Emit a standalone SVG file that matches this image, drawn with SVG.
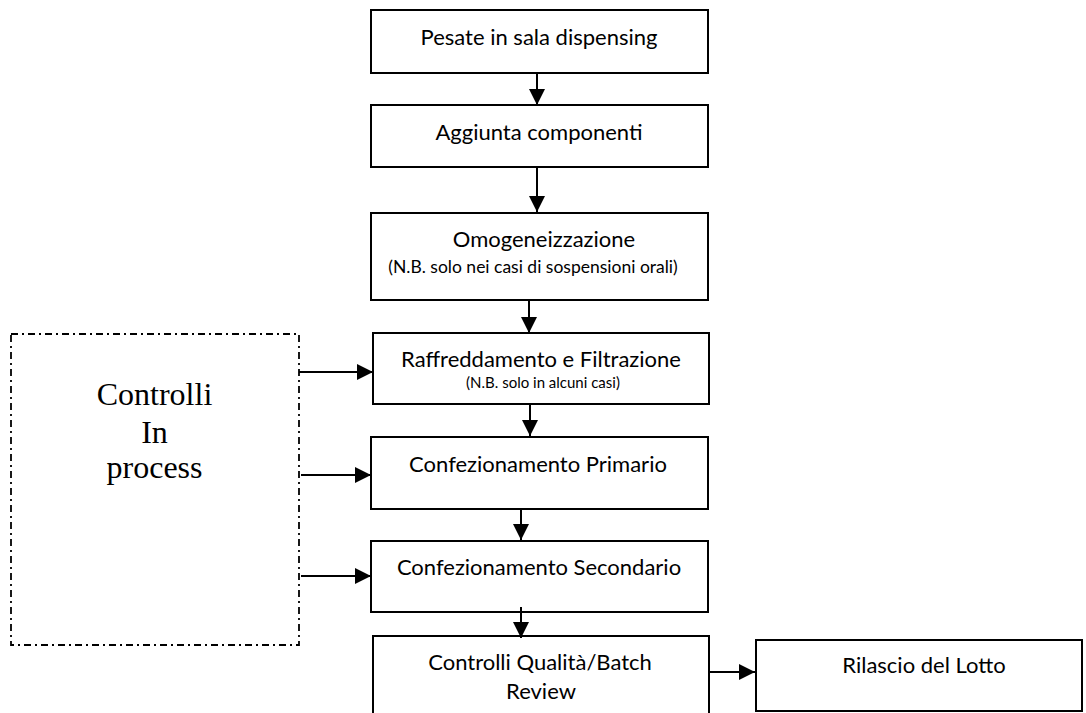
<svg xmlns="http://www.w3.org/2000/svg" width="1086" height="713" viewBox="0 0 1086 713">
  <style>
    .box { fill: #fff; stroke: #000; stroke-width: 2; }
    .ctrl { fill: none; stroke: #000; stroke-width: 1.8; stroke-dasharray: 7 4 2 4; }
    .lbl { font-family: Lato, "Open Sans", sans-serif; font-size: 22px; fill: #000; text-anchor: middle; }
    .note { font-family: Lato, "Open Sans", sans-serif; font-size: 15px; fill: #000; text-anchor: middle; }
    .note-lg { font-size: 17.5px; }
    .serif { font-family: "Liberation Serif", "Times New Roman", serif; font-size: 32px; fill: #000; text-anchor: middle; }
    .conn line { stroke: #000; stroke-width: 2; }
  </style>
  <defs>
    <marker id="arrow" viewBox="0 0 10 10" refX="10" refY="5" markerWidth="8" markerHeight="8" markerUnits="strokeWidth" orient="auto">
      <path d="M0,0 L10,5 L0,10 Z" fill="#000"/>
    </marker>
  </defs>

  <rect width="1086" height="713" fill="#fff"/>

  <!-- in-process controls panel -->
  <g id="controlli-in-process">
    <rect class="ctrl" x="11" y="334" width="288" height="311"/>
    <text class="serif" x="154.5" y="405">Controlli</text>
    <text class="serif" x="154.5" y="443">In</text>
    <text class="serif" x="154.5" y="478">process</text>
  </g>

  <g id="pesate">
    <rect class="box" x="371" y="10" width="337" height="63"/>
    <text class="lbl" x="539" y="45">Pesate in sala dispensing</text>
  </g>

  <g id="aggiunta">
    <rect class="box" x="371" y="105" width="337" height="62"/>
    <text class="lbl" x="539" y="140">Aggiunta componenti</text>
  </g>

  <g id="omogeneizzazione">
    <rect class="box" x="371" y="213" width="337" height="87"/>
    <text class="lbl" x="544" y="247">Omogeneizzazione</text>
    <text class="note note-lg" x="533" y="273">(N.B. solo nei casi di sospensioni orali)</text>
  </g>

  <g id="raffreddamento">
    <rect class="box" x="373" y="333" width="336" height="71"/>
    <text class="lbl" x="541" y="367">Raffreddamento e Filtrazione</text>
    <text class="note" x="543" y="388">(N.B. solo in alcuni casi)</text>
  </g>

  <g id="primario">
    <rect class="box" x="371" y="437" width="337" height="72"/>
    <text class="lbl" x="538" y="472">Confezionamento Primario</text>
  </g>

  <g id="secondario">
    <rect class="box" x="371" y="541" width="337" height="71"/>
    <text class="lbl" x="539" y="575">Confezionamento Secondario</text>
  </g>

  <g id="controlli-qualita">
    <rect class="box" x="373" y="636" width="336" height="90"/>
    <text class="lbl" x="540" y="670">Controlli Qualità/Batch</text>
    <text class="lbl" x="541" y="699">Review</text>
  </g>

  <g id="rilascio">
    <rect class="box" x="756" y="640" width="326" height="71"/>
    <text class="lbl" x="924" y="673">Rilascio del Lotto</text>
  </g>

  <g id="connectors" class="conn">
    <line x1="537" y1="73" x2="537" y2="105" marker-end="url(#arrow)"/>
    <line x1="537" y1="167" x2="537" y2="212" marker-end="url(#arrow)"/>
    <line x1="529" y1="300" x2="529" y2="333" marker-end="url(#arrow)"/>
    <line x1="530" y1="405" x2="530" y2="436" marker-end="url(#arrow)"/>
    <line x1="521" y1="509" x2="521" y2="540" marker-end="url(#arrow)"/>
    <line x1="521" y1="607" x2="521" y2="638" marker-end="url(#arrow)"/>
    <line x1="709" y1="672" x2="755" y2="672" marker-end="url(#arrow)"/>
    <line x1="299" y1="372" x2="373" y2="372" marker-end="url(#arrow)"/>
    <line x1="301" y1="475" x2="371" y2="475" marker-end="url(#arrow)"/>
    <line x1="301" y1="576" x2="371" y2="576" marker-end="url(#arrow)"/>
  </g>
</svg>
